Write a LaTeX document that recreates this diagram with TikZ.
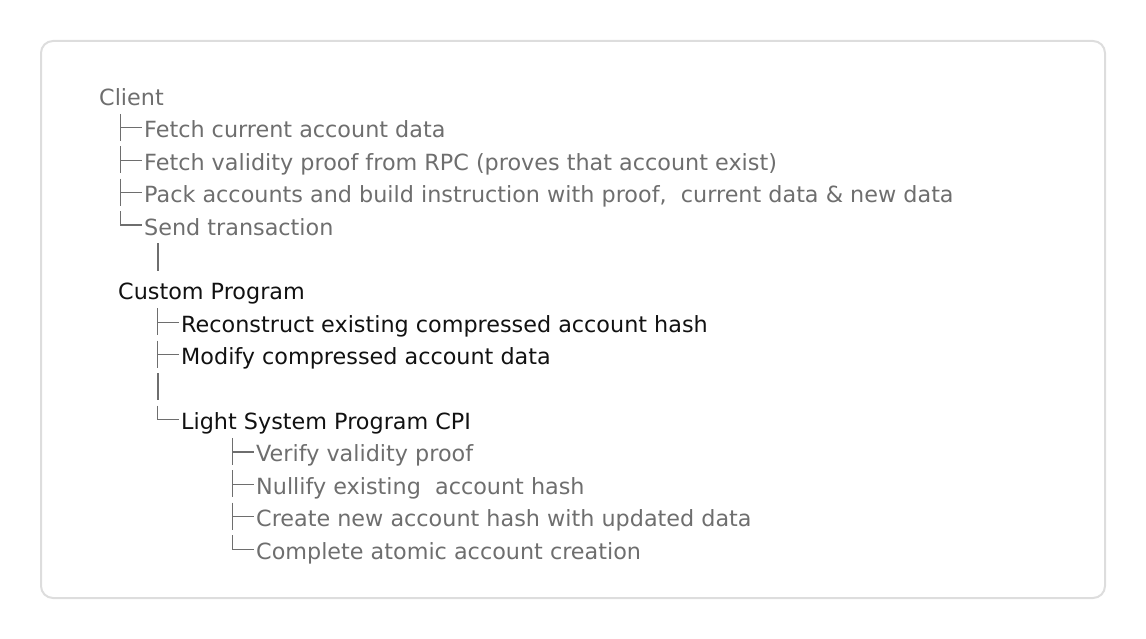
\documentclass[tikz,border=0pt]{standalone}
\usepackage{fontspec}
\setmainfont{DejaVu Sans}
\usetikzlibrary{positioning}
\usepackage{xcolor}
\definecolor{framegray}{HTML}{DDDDDD}
\definecolor{textgray}{HTML}{6E6E6E}
\definecolor{textdark}{HTML}{111111}
\tikzset{
  item/.style = {anchor=base west, inner sep=0pt, font=\fontsize{22.3}{27}\selectfont},
  clientitem/.style = {item, text=textgray},
  programitem/.style = {item, text=textdark},
  branch/.style = {draw=textgray, line width=1.2pt},
  frame/.style = {draw=framegray, line width=2pt, rounded corners=12pt}
}
% tree glyphs drawn in front of a row
\newcommand{\teeto}[1]{\draw[branch] ([shift={(-23.5,-24)}]#1.base west) -- ++(0,27)
  ([shift={(-23.5,-10)}]#1.base west) -- ++(21.5,0);}
\newcommand{\elbowto}[1]{\draw[branch] ([shift={(-23.5,-24)}]#1.base west) -- ++(0,14) -- ++(21.5,0);}
\newcommand{\stem}[1]{\draw[branch] ([shift={(0,-24)}]#1) -- ++(0,27);}

\begin{document}
\begin{tikzpicture}[x=1pt, y=-1pt]
\useasboundingbox (0,0) rectangle (1146,639);
\draw[frame] (41,41) rectangle (1105,598);

\node[clientitem] (client) at (99,105.5) {Client};
\node[clientitem] (fetchdata) at (144,137.9) {Fetch current account data};
\node[clientitem] (fetchproof) at (144,170.3) {Fetch validity proof from RPC (proves that account exist)};
\node[clientitem] (pack) at (144,202.7) {Pack accounts and build instruction with proof,\ \ current data \& new data};
\node[clientitem] (send) at (144,235.1) {Send transaction};
\coordinate (sendstem) at (158,267.5);

\node[programitem] (custom) at (118,299.9) {Custom Program};
\node[programitem] (reconstruct) at (181,332.3) {Reconstruct existing compressed account hash};
\node[programitem] (modify) at (181,364.7) {Modify compressed account data};
\coordinate (modifystem) at (158,397.1);
\node[programitem] (lightcpi) at (181,429.5) {Light System Program CPI};

\node[clientitem] (verify) at (256,461.9) {Verify validity proof};
\node[clientitem] (nullify) at (256,494.3) {Nullify existing\ \ account hash};
\node[clientitem] (create) at (256,526.7) {Create new account hash with updated data};
\node[clientitem] (complete) at (256,559.1) {Complete atomic account creation};

\teeto{fetchdata}
\teeto{fetchproof}
\teeto{pack}
\elbowto{send}
\stem{sendstem}
\teeto{reconstruct}
\teeto{modify}
\stem{modifystem}
\elbowto{lightcpi}
\teeto{verify}
\teeto{nullify}
\teeto{create}
\elbowto{complete}

\end{tikzpicture}
\end{document}
